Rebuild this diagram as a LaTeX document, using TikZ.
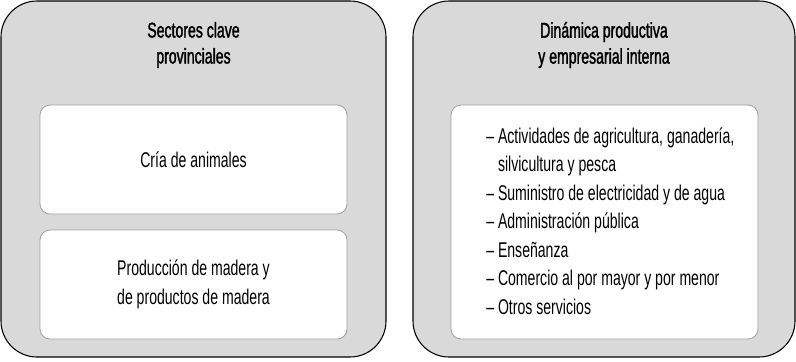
\documentclass[tikz,border=0pt]{standalone}
\usepackage{fontspec}
\setmainfont[FakeStretch=0.66]{Liberation Sans}
\newfontfamily\headfont[FakeStretch=0.66,FakeBold=1.5]{Liberation Sans}
\definecolor{panelgray}{HTML}{D9D9D9}
\definecolor{edgegray}{HTML}{A0A0A0}
\begin{document}
\begin{tikzpicture}[x=0.75pt,y=-0.75pt,
    panel/.style={draw=black,fill=panelgray,line width=0.8pt,rounded corners=27pt,
      inner sep=0pt,outer sep=0pt,minimum height=267pt},
    card/.style={draw=edgegray,fill=white,line width=0.6pt,rounded corners=7.5pt,
      inner sep=0pt,outer sep=0pt,minimum width=230.25pt,align=center,
      font=\fontsize{16}{21.4}\selectfont},
    head/.style={align=center,inner sep=0pt,font=\headfont\fontsize{16}{19.5}\selectfont}]
    \useasboundingbox (0,0) rectangle (796,361);

    % outer panels
    \node[panel,minimum width=288.75pt] at (193.5,179) (left) {};
    \node[panel,minimum width=286.5pt] at (604,179) (right) {};

    % headings
    \node[head] at (193.5,45) (sectores) {Sectores clave\\provinciales};
    \node[head] at (604,45) (dinamica) {Dinámica productiva\\y empresarial interna};

    % inner cards
    \node[card,minimum height=81.75pt] at (193.5,159.5) (cria) {Cría de animales};
    \node[card,minimum height=81.75pt] at (193.5,284.5) (madera) {Producción de madera y\\de productos de madera};
    \node[card,minimum height=175.5pt] at (604.5,222) (ramas) {};

    \node[inner sep=0pt,align=left,anchor=west,font=\fontsize{16}{21.4}\selectfont] at (486,221) (lista)
      {– Actividades de agricultura, ganadería,\\
       \hphantom{– }silvicultura y pesca\\
       – Suministro de electricidad y de agua\\
       – Administración pública\\
       – Enseñanza\\
       – Comercio al por mayor y por menor\\
       – Otros servicios};
\end{tikzpicture}
\end{document}
